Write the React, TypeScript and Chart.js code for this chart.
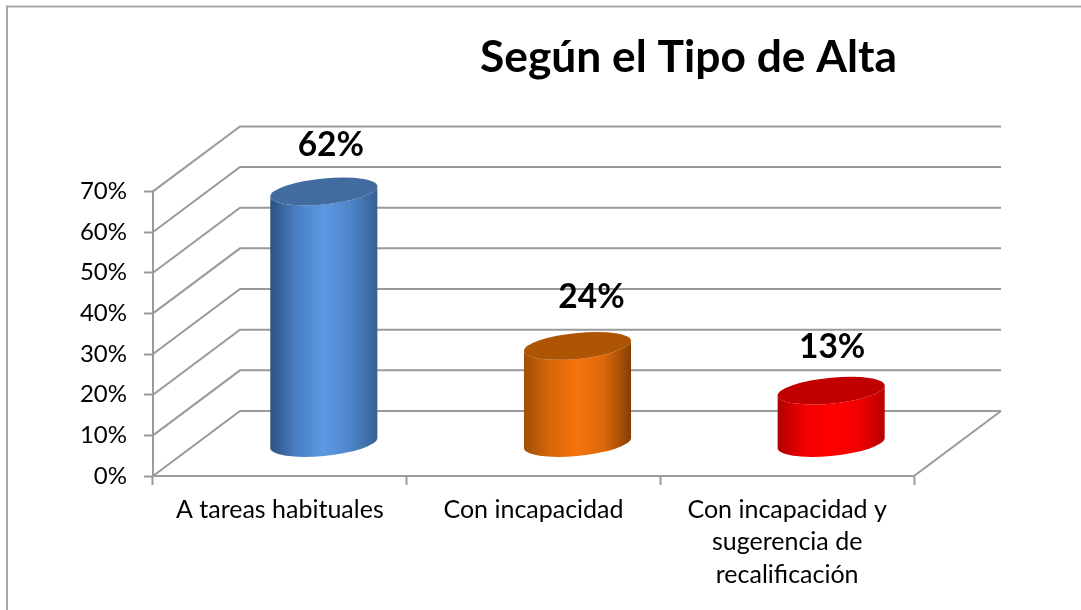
import React, { useEffect, useRef } from "react";
import { Chart, registerables } from "chart.js";

Chart.register(...registerables);

const categories = ["A tareas habituales", "Con incapacidad", ["Con incapacidad y", "sugerencia de", "recalificación"]];
const values = [62, 24, 13];
const valueLabels = ["62%", "24%", "13%"];
const chartTitle = "Según el Tipo de Alta";
const axisMax = 70;
const axisStep = 10;

const labelShiftX = [7, 14, 1];
const labelShiftY = [-79, -81, -76];
const sideStops = [
  ["#2b5180", "#4a80c4", "#5c98e3", "#4e86ca", "#36608f"],
  ["#a04f06", "#d9660a", "#f5730c", "#dc680a", "#843f03"],
  ["#b00000", "#f00000", "#ff0000", "#f20000", "#b80000"],
];
const capColors = ["#426b9f", "#ae5405", "#c00000"];

const GRID = "#9a9a9a";
const DEPTH_X = 87;
const DEPTH_Y = -65;
const FONT = "Lato";

const scene3d = {
  id: "scene3d",
  afterLayout(chart: any) {
    const t = chart.titleBlock;
    if (t) {
      t.left = 480;
      t.right = 897;
    }
  },
  beforeDraw(chart: any) {
    const c = chart.ctx;
    c.save();
    c.fillStyle = "#fff";
    c.fillRect(0, 0, chart.width, chart.height);
    c.strokeStyle = "#a6a6a6";
    c.lineWidth = 2;
    c.beginPath();
    c.moveTo(7, chart.height);
    c.lineTo(7, 6.5);
    c.lineTo(chart.width, 6.5);
    c.stroke();
    c.restore();
  },
  beforeDatasetsDraw(chart: any) {
    const c = chart.ctx;
    const { x, y } = chart.scales;
    c.save();
    c.strokeStyle = GRID;
    c.lineWidth = 2;
    c.lineJoin = "miter";
    for (const tick of y.ticks) {
      const py = y.getPixelForValue(tick.value);
      c.beginPath();
      c.moveTo(x.left, py);
      c.lineTo(x.left + DEPTH_X, py + DEPTH_Y);
      c.lineTo(x.right + DEPTH_X, py + DEPTH_Y);
      c.stroke();
    }
    const base = y.getPixelForValue(0);
    c.beginPath();
    c.moveTo(x.right, base);
    c.lineTo(x.right + DEPTH_X, base + DEPTH_Y);
    c.stroke();
    c.restore();
  },
  afterDatasetsDraw(chart: any) {
    const c = chart.ctx;
    const bars = chart.getDatasetMeta(0).data;
    bars.forEach((bar: any, i: number) => {
      const p = bar.getProps(["x", "y", "base", "width"], true);
      const cx = p.x + DEPTH_X / 2 + 0.5;
      const top = p.y + DEPTH_Y / 2;
      const bottom = p.base + DEPTH_Y / 2;
      const W = p.width / 2;
      const k = 5;
      const h = 13;

      const half = (cy: number, from: number, to: number, ccw: boolean) => {
        c.save();
        c.transform(W, -k, 0, h, cx, cy);
        c.arc(0, 0, 1, from, to, ccw);
        c.restore();
      };

      const g = c.createLinearGradient(cx - W, 0, cx + W, 0);
      sideStops[i].forEach((col, s) => g.addColorStop(s / 4, col));
      c.save();
      c.fillStyle = g;
      c.beginPath();
      c.moveTo(cx - W, top + k);
      c.lineTo(cx - W, bottom + k);
      half(bottom, Math.PI, 0, true);
      c.lineTo(cx + W, top - k);
      half(top, 0, Math.PI, false);
      c.closePath();
      c.fill();

      c.fillStyle = capColors[i];
      c.beginPath();
      half(top, 0, Math.PI * 2, false);
      c.closePath();
      c.fill();

      c.fillStyle = "#000";
      c.font = `bold 33.5px ${FONT}`;
      c.textAlign = "center";
      c.textBaseline = "middle";
      c.fillText(valueLabels[i], cx + labelShiftX[i], p.y + labelShiftY[i]);
      c.restore();
    });
  },
};

export default function App() {
  const ref = useRef<HTMLCanvasElement>(null);

  useEffect(() => {
    const chart = new Chart(ref.current as HTMLCanvasElement, {
      type: "bar",
      data: {
        labels: categories as any,
        datasets: [
          {
            data: values,
            backgroundColor: "transparent",
            borderWidth: 0,
            categoryPercentage: 1,
            barPercentage: 0.422,
          },
        ],
      },
      options: {
        animation: false,
        responsive: false,
        events: [],
        layout: { padding: { top: 0, left: 0, right: 167, bottom: 0 } },
        plugins: {
          legend: { display: false },
          tooltip: { enabled: false },
          title: {
            display: true,
            text: chartTitle,
            color: "#000",
            font: { family: FONT, size: 44.5, weight: "bold", lineHeight: 1.2 },
            padding: { top: 31, bottom: 107 },
          },
        },
        scales: {
          x: {
            afterFit: (s: any) => {
              s.height = 134;
            },
            grid: {
              drawOnChartArea: false,
              drawTicks: true,
              tickLength: 9,
              tickColor: GRID,
              tickWidth: 2,
              offset: true,
            },
            border: { display: true, color: GRID, width: 2 },
            ticks: {
              color: "#000",
              font: { family: FONT, size: 25, lineHeight: 1.29 },
              padding: 9,
              maxRotation: 0,
              minRotation: 0,
              autoSkip: false,
            },
          },
          y: {
            min: 0,
            max: axisMax,
            afterFit: (s: any) => {
              s.width = 153;
            },
            grid: {
              drawOnChartArea: false,
              drawTicks: true,
              tickLength: 9,
              tickColor: GRID,
              tickWidth: 2,
            },
            border: { display: true, color: GRID, width: 2 },
            ticks: {
              stepSize: axisStep,
              color: "#000",
              font: { family: FONT, size: 24 },
              padding: 17,
              callback: (v: any) => `${v}%`,
            },
          },
        },
      },
      plugins: [scene3d],
    } as any);
    return () => chart.destroy();
  }, []);

  return (
    <div style={{ position: "fixed", left: 0, top: 0, width: 1081, height: 610, background: "#fff" }}>
      <canvas ref={ref} width={1081} height={610} style={{ display: "block" }} />
    </div>
  );
}
